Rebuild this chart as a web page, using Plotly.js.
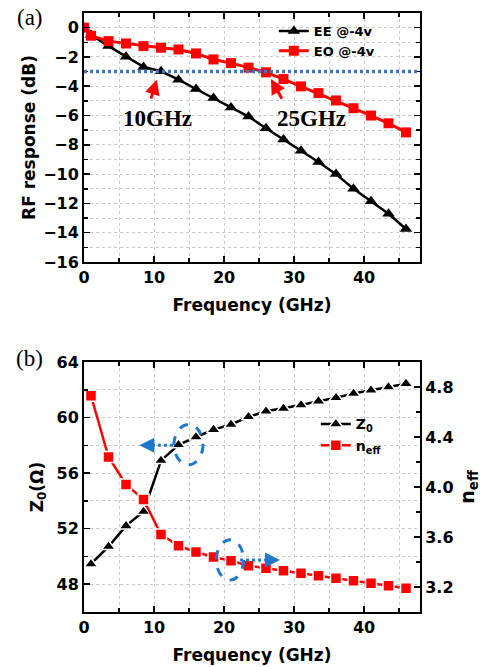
<!DOCTYPE html>
<html>
<head>
<meta charset="utf-8">
<script src="https://cdn.plot.ly/plotly-3.0.1.min.js"></script>
<style>
  html, body { margin: 0; padding: 0; background: #fff; }
  #chart { width: 492px; height: 667px; }
</style>
</head>
<body>
<div id="chart"></div>
<script>
// ---- Panel (a): RF response ----
const freqA = [0, 1, 3.5, 6, 8.5, 11, 13.5, 16, 18.5, 21, 23.5, 26, 28.5, 31, 33.5, 36, 38.5, 41, 43.5, 46];
const eeResp = [0, -0.48, -1.26, -1.99, -2.68, -2.98, -3.55, -4.19, -4.81, -5.45, -6.07, -6.87, -7.63, -8.40, -9.17, -10.0, -11.0, -11.85, -12.71, -13.75];
const eoResp = [0, -0.55, -0.92, -1.08, -1.26, -1.37, -1.49, -1.76, -2.17, -2.42, -2.73, -3.05, -3.51, -4.01, -4.47, -4.97, -5.50, -6.00, -6.53, -7.15];
const seriesNamesA = ["EE @-4v", "EO @-4v"];
const threeDb = -3;

// ---- Panel (b): Z0 and n_eff ----
const freqB = [1, 3.5, 6, 8.5, 11, 13.5, 16, 18.5, 21, 23.5, 26, 28.5, 31, 33.5, 36, 38.5, 41, 43.5, 46];
const z0 = [49.46, 50.71, 52.2, 53.23, 56.9, 58.04, 58.6, 59.13, 59.5, 60.05, 60.45, 60.65, 60.9, 61.18, 61.42, 61.73, 61.97, 62.2, 62.44];
const neff = [4.73, 4.24, 4.02, 3.90, 3.62, 3.53, 3.48, 3.44, 3.41, 3.37, 3.35, 3.33, 3.31, 3.29, 3.27, 3.25, 3.23, 3.21, 3.19];
const seriesNamesB = ["Z<sub>0</sub>", "n<sub>eff</sub>"];

const FONT = "DejaVu Sans, Arial, sans-serif";
const SERIF = "Liberation Serif, Times New Roman, serif";
const BLUE = "#4472C4";
const DBLUE = "#1f78c8";
const GRID = "#c9c9c9";

const traces = [
  { x: freqA, y: eeResp, name: seriesNamesA[0], type: "scatter", mode: "lines+markers",
    xaxis: "x", yaxis: "y", legend: "legend",
    line: { color: "#000", width: 2.5 },
    marker: { symbol: "triangle-up", size: 11, color: "#000" } },
  { x: freqA, y: eoResp, name: seriesNamesA[1], type: "scatter", mode: "lines+markers",
    xaxis: "x", yaxis: "y", legend: "legend",
    line: { color: "#ff0000", width: 3 },
    marker: { symbol: "square", size: 10, color: "#ff0000" } },
  { x: freqB, y: z0, name: seriesNamesB[0], type: "scatter", mode: "lines+markers",
    xaxis: "x2", yaxis: "y2", legend: "legend2",
    line: { color: "#000", width: 2.5 },
    marker: { symbol: "triangle-up", size: 12, color: "#000", line: { color: "#fff", width: 1.5 } } },
  { x: freqB, y: neff, name: seriesNamesB[1], type: "scatter", mode: "lines+markers",
    xaxis: "x2", yaxis: "y3", legend: "legend2",
    line: { color: "#ff0000", width: 2.5 },
    marker: { symbol: "square", size: 11, color: "#ff0000", line: { color: "#fff", width: 1.5 } } }
];

const tickFont = { family: FONT, size: 16, color: "#000", weight: "bold" };
const titleFont = { family: FONT, size: 17, color: "#000", weight: "bold" };

function xAxis(anchor) {
  return {
    domain: [0, 1], anchor: anchor, range: [0, 48],
    dtick: 10, tick0: 0, ticks: "inside", ticklen: 6, tickwidth: 1.5, tickcolor: "#000",
    showline: true, linecolor: "#000", linewidth: 2, mirror: "ticks",
    showgrid: true, gridcolor: GRID, griddash: "dot", gridwidth: 1,
    minor: { dtick: 5, showgrid: true, gridcolor: GRID, griddash: "dot", ticks: "inside", ticklen: 4, tickcolor: "#000" },
    zeroline: false, tickfont: tickFont,
    title: { text: "Frequency (GHz)", font: titleFont, standoff: 13 }
  };
}

const layout = {
  width: 492, height: 667,
  margin: { l: 84, r: 72, t: 13, b: 55 },
  paper_bgcolor: "#fff", plot_bgcolor: "#fff",
  font: { family: FONT, color: "#000" },
  xaxis: xAxis("y"),
  yaxis: {
    domain: [0.5843, 1], anchor: "x", range: [-16, 1],
    dtick: 2, tick0: 0, ticks: "inside", ticklen: 6, tickwidth: 1.5, tickcolor: "#000",
    showline: true, linecolor: "#000", linewidth: 2, mirror: "ticks",
    showgrid: true, gridcolor: GRID, griddash: "dot",
    minor: { dtick: 1, showgrid: true, gridcolor: GRID, griddash: "dot", ticks: "inside", ticklen: 4, tickcolor: "#000" },
    zeroline: false, tickfont: tickFont,
    title: { text: "RF response (dB)", font: titleFont, standoff: 3 }
  },
  xaxis2: xAxis("y2"),
  yaxis2: {
    domain: [0, 0.4174], anchor: "x2", range: [46, 64],
    dtick: 4, tick0: 0, ticks: "inside", ticklen: 6, tickwidth: 1.5, tickcolor: "#000",
    showline: true, linecolor: "#000", linewidth: 2,
    showgrid: true, gridcolor: GRID, griddash: "dot",
    minor: { dtick: 2, showgrid: true, gridcolor: GRID, griddash: "dot", ticks: "inside", ticklen: 4, tickcolor: "#000" },
    zeroline: false, tickfont: tickFont,
    title: { text: "Z<sub>0</sub>(Ω)", font: titleFont, standoff: 9 }
  },
  yaxis3: {
    overlaying: "y2", side: "right", anchor: "x2", range: [3.0, 5.0],
    dtick: 0.4, tick0: 3.2, ticks: "inside", ticklen: 6, tickwidth: 1.5, tickcolor: "#000",
    tickformat: ".1f",
    showline: true, linecolor: "#000", linewidth: 2,
    showgrid: false,
    minor: { dtick: 0.2, ticks: "inside", ticklen: 4, tickcolor: "#000" },
    zeroline: false, tickfont: tickFont,
    title: { text: "n<sub>eff</sub>", font: { family: FONT, size: 19, color: "#000", weight: "bold" }, standoff: 8 }
  },
  showlegend: true,
  legend: {
    x: 0.565, y: 0.995, xanchor: "left", yanchor: "top",
    bgcolor: "rgba(0,0,0,0)", borderwidth: 0,
    font: { family: FONT, size: 13, color: "#000", weight: "bold" },
    tracegroupgap: 0, itemwidth: 30
  },
  legend2: {
    x: 0.69, y: 0.34, xanchor: "left", yanchor: "top",
    bgcolor: "rgba(0,0,0,0)", borderwidth: 0,
    font: { family: FONT, size: 14, color: "#000", weight: "bold" },
    tracegroupgap: 0, itemwidth: 30
  },
  shapes: [
    { type: "line", xref: "x domain", yref: "y", x0: 0, x1: 1, y0: threeDb, y1: threeDb,
      line: { color: BLUE, width: 3.5, dash: "3px,3px" }, layer: "above" },
    { type: "circle", xref: "x2", yref: "y2", x0: 12.85, x1: 17.0, y0: 56.6, y1: 59.5,
      line: { color: DBLUE, width: 3, dash: "dash" } },
    { type: "circle", xref: "x2", yref: "y2", x0: 18.9, x1: 22.8, y0: 48.3, y1: 51.2,
      line: { color: DBLUE, width: 3, dash: "dash" } },
    { type: "line", xref: "x2", yref: "y2", x0: 12.7, x1: 8.6, y0: 58.0, y1: 58.0,
      line: { color: DBLUE, width: 3, dash: "3px,3px" } },
    { type: "line", xref: "x2", yref: "y2", x0: 22.3, x1: 27.3, y0: 49.75, y1: 49.75,
      line: { color: DBLUE, width: 3, dash: "3px,3px" } }
  ],
  annotations: [
    { xref: "paper", yref: "paper", x: -0.161, y: 0.9917, xanchor: "center", yanchor: "middle",
      text: "(a)", showarrow: false, font: { family: SERIF, size: 23, color: "#000" } },
    { xref: "paper", yref: "paper", x: -0.161, y: 0.424, xanchor: "center", yanchor: "middle",
      text: "(b)", showarrow: false, font: { family: SERIF, size: 23, color: "#000" } },
    { xref: "x", yref: "y", x: 10.57, y: -6.17, text: "10GHz", showarrow: false,
      font: { family: SERIF, size: 23, color: "#000", weight: "bold" } },
    { xref: "x", yref: "y", x: 32.5, y: -6.17, text: "25GHz", showarrow: false,
      font: { family: SERIF, size: 23, color: "#000", weight: "bold" } },
    { xref: "x", yref: "y", axref: "x", ayref: "y", x: 10.4, y: -3.55, ax: 9.5, ay: -4.95,
      text: "", showarrow: true, arrowhead: 2, arrowsize: 1, arrowwidth: 3, arrowcolor: "#ff0000" },
    { xref: "x", yref: "y", axref: "x", ayref: "y", x: 26.7, y: -3.5, ax: 28.4, ay: -4.95,
      text: "", showarrow: true, arrowhead: 2, arrowsize: 1, arrowwidth: 3, arrowcolor: "#ff0000" },
    { xref: "x2", yref: "y2", x: 7.9, y: 58.0, ax: 8, ay: 0,
      text: "", showarrow: true, arrowhead: 2, arrowsize: 1, arrowwidth: 3, arrowcolor: DBLUE },
    { xref: "x2", yref: "y2", x: 28.0, y: 49.75, ax: -8, ay: 0,
      text: "", showarrow: true, arrowhead: 2, arrowsize: 1, arrowwidth: 3, arrowcolor: DBLUE }
  ]
};

Plotly.newPlot("chart", traces, layout, { displayModeBar: false, staticPlot: true });
</script>
</body>
</html>
